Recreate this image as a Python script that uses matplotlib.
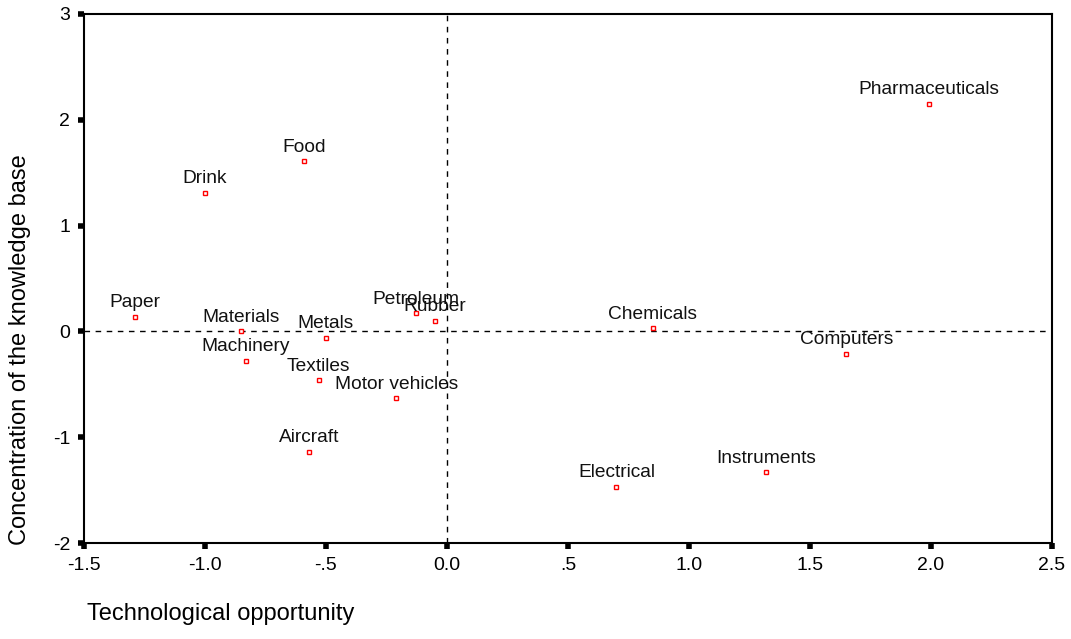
import matplotlib.pyplot as plt

plt.rcParams['font.family'] = ['Liberation Sans', 'DejaVu Sans']

industries = ['Pharmaceuticals', 'Food', 'Drink', 'Paper', 'Materials', 'Machinery',
              'Metals', 'Textiles', 'Petroleum', 'Rubber', 'Motor vehicles', 'Aircraft',
              'Chemicals', 'Computers', 'Electrical', 'Instruments']
tech_opp = [1.99, -0.59, -1.00, -1.29, -0.85, -0.83,
            -0.50, -0.53, -0.13, -0.05, -0.21, -0.57,
            0.85, 1.65, 0.70, 1.32]
concentration = [2.15, 1.61, 1.31, 0.14, 0.00, -0.28,
                 -0.06, -0.46, 0.17, 0.10, -0.63, -1.14,
                 0.03, -0.21, -1.47, -1.33]

xticks = [-1.5, -1.0, -0.5, 0.0, 0.5, 1.0, 1.5, 2.0, 2.5]
xtick_labels = ['-1.5', '-1.0', '-.5', '0.0', '.5', '1.0', '1.5', '2.0', '2.5']
yticks = [-2, -1, 0, 1, 2, 3]
ytick_labels = ['-2', '-1', '0', '1', '2', '3']

fig = plt.figure(figsize=(10.71, 6.39), dpi=100)
ax = fig.add_axes([0.0784, 0.1502, 0.9039, 0.8279])

ax.axhline(0, color='black', linewidth=1, dashes=(4, 4))
ax.axvline(0, color='black', linewidth=1, dashes=(4, 4))

ax.plot(tech_opp, concentration, linestyle='none', marker='s', markersize=3.5,
        markerfacecolor='white', markeredgecolor='red', markeredgewidth=1)

for name, x, y in zip(industries, tech_opp, concentration):
    ax.annotate(name, (x, y), xytext=(0, 4), textcoords='offset points',
                ha='center', va='bottom', fontsize=13.8, color='#111111')

ax.set_xlim(-1.5, 2.5)
ax.set_ylim(-2, 3)
ax.set_xticks(xticks)
ax.set_xticklabels(xtick_labels)
ax.set_yticks(yticks)
ax.set_yticklabels(ytick_labels)
ax.tick_params(direction='out', length=4, width=4, labelsize=14, pad=6)

for s in ax.spines.values():
    s.set_linewidth(1.5)

fig.text(0.081, 0.022, 'Technological opportunity', fontsize=17, ha='left', va='bottom')
fig.text(0.008, (639 - 545) / 639, 'Concentration of the knowledge base', fontsize=17,
         rotation=90, ha='left', va='bottom')

fig.savefig('out.png', dpi=100)
